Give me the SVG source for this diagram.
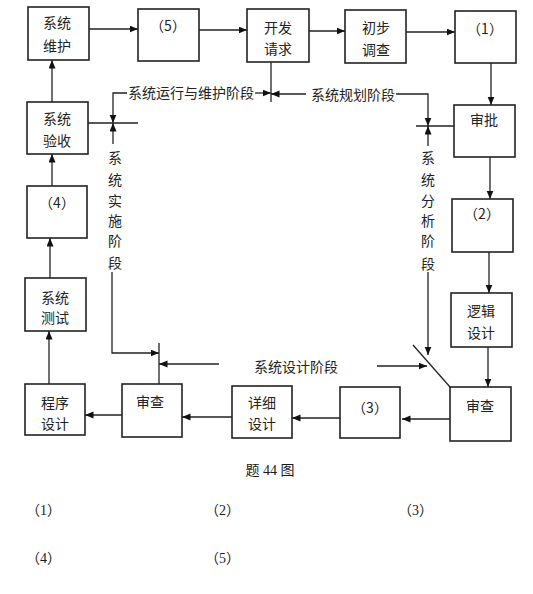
<svg xmlns="http://www.w3.org/2000/svg" width="533" height="594" viewBox="0 0 533 594">
<style>
.box{fill:#fff;stroke:#222;stroke-width:1.6}
.ln{fill:none;stroke:#222;stroke-width:1.3}
.t{font-family:"Noto Sans CJK SC","Liberation Sans",sans-serif;font-size:14px;fill:#222;text-anchor:middle;dominant-baseline:central}
.cap{font-family:"Liberation Serif","Noto Sans CJK SC",serif;font-size:14px;fill:#1a1a1a;dominant-baseline:central}
</style>
<defs>
<marker id="ah" markerUnits="userSpaceOnUse" markerWidth="9" markerHeight="8" refX="8.5" refY="3.5" orient="auto">
<path d="M0,0 L8.5,3.5 L0,7 z" fill="#111"/>
</marker>
</defs>
<rect width="533" height="594" fill="#fff"/>

<g id="connectors">
<line class="ln" x1="89" y1="29" x2="138" y2="29" marker-end="url(#ah)"/>
<line class="ln" x1="199" y1="30" x2="247" y2="30" marker-end="url(#ah)"/>
<line class="ln" x1="309" y1="31" x2="345" y2="31" marker-end="url(#ah)"/>
<line class="ln" x1="406" y1="32" x2="455" y2="32" marker-end="url(#ah)"/>
<line class="ln" x1="491" y1="63" x2="491" y2="105" marker-end="url(#ah)"/>
<line class="ln" x1="490" y1="157" x2="490" y2="199" marker-end="url(#ah)"/>
<line class="ln" x1="489" y1="252" x2="489" y2="293" marker-end="url(#ah)"/>
<line class="ln" x1="488" y1="347" x2="488" y2="387" marker-end="url(#ah)"/>
<line class="ln" x1="450" y1="419" x2="402" y2="419" marker-end="url(#ah)"/>
<line class="ln" x1="340" y1="418" x2="292" y2="418" marker-end="url(#ah)"/>
<line class="ln" x1="232" y1="417" x2="182" y2="417" marker-end="url(#ah)"/>
<line class="ln" x1="122" y1="415" x2="85" y2="415" marker-end="url(#ah)"/>
<line class="ln" x1="49" y1="384" x2="49" y2="331" marker-end="url(#ah)"/>
<line class="ln" x1="50" y1="278" x2="50" y2="238" marker-end="url(#ah)"/>
<line class="ln" x1="52" y1="186" x2="52" y2="154" marker-end="url(#ah)"/>
<line class="ln" x1="52" y1="102" x2="52" y2="60" marker-end="url(#ah)"/>

<!-- stage boundary lines -->
<line class="ln" x1="271" y1="62" x2="271" y2="102"/>
<polyline class="ln" points="127,93 113,93 113,123" marker-end="url(#ah)"/>
<line class="ln" x1="255" y1="93" x2="271" y2="93" marker-end="url(#ah)"/>
<line class="ln" x1="306" y1="94" x2="271" y2="94" marker-end="url(#ah)"/>
<polyline class="ln" points="396,94 428,94 428,126" marker-end="url(#ah)"/>
<line class="ln" x1="88" y1="123" x2="138" y2="123"/>
<line class="ln" x1="416" y1="126" x2="454" y2="126"/>
<line class="ln" x1="113" y1="144" x2="113" y2="123" marker-end="url(#ah)"/>
<line class="ln" x1="428" y1="146" x2="428" y2="126" marker-end="url(#ah)"/>
<polyline class="ln" points="112,272 112,353 159,353" marker-end="url(#ah)"/>
<line class="ln" x1="159" y1="343" x2="159" y2="384"/>
<line class="ln" x1="219" y1="364" x2="159" y2="364" marker-end="url(#ah)"/>
<line class="ln" x1="428" y1="272" x2="428" y2="355" marker-end="url(#ah)"/>
<line class="ln" x1="377" y1="366" x2="427" y2="366" marker-end="url(#ah)"/>
<line class="ln" x1="413" y1="345" x2="450" y2="387"/>
</g>

<g id="n-xtwh"><rect class="box" x="28" y="7" width="61" height="53"/><text class="t" x="57" y="22">系统</text><text class="t" x="57" y="45">维护</text></g>
<g id="n-5"><rect class="box" x="138" y="9" width="61" height="52"/><text class="t" x="168" y="25">（5）</text></g>
<g id="n-kfqq"><rect class="box" x="247" y="9" width="62" height="53"/><text class="t" x="278" y="27">开发</text><text class="t" x="278" y="48">请求</text></g>
<g id="n-cbdc"><rect class="box" x="345" y="10" width="61" height="53"/><text class="t" x="376" y="27">初步</text><text class="t" x="376" y="49">调查</text></g>
<g id="n-1"><rect class="box" x="455" y="11" width="61" height="52"/><text class="t" x="485" y="28">（1）</text></g>
<g id="n-sp"><rect class="box" x="454" y="105" width="61" height="52"/><text class="t" x="484" y="119">审批</text></g>
<g id="n-2"><rect class="box" x="452" y="199" width="61" height="53"/><text class="t" x="482" y="213">（2）</text></g>
<g id="n-ljsj"><rect class="box" x="451" y="293" width="61" height="54"/><text class="t" x="481" y="310">逻辑</text><text class="t" x="481" y="332">设计</text></g>
<g id="n-scR"><rect class="box" x="450" y="387" width="61" height="54"/><text class="t" x="480" y="405">审查</text></g>
<g id="n-3"><rect class="box" x="340" y="387" width="60" height="51"/><text class="t" x="370" y="407">（3）</text></g>
<g id="n-xxsj"><rect class="box" x="232" y="386" width="60" height="52"/><text class="t" x="262" y="402">详细</text><text class="t" x="262" y="423">设计</text></g>
<g id="n-scL"><rect class="box" x="122" y="384" width="60" height="53"/><text class="t" x="150" y="401">审查</text></g>
<g id="n-cxsj"><rect class="box" x="25" y="384" width="60" height="51"/><text class="t" x="55" y="402">程序</text><text class="t" x="55" y="423">设计</text></g>
<g id="n-xtcs"><rect class="box" x="25" y="278" width="61" height="53"/><text class="t" x="55" y="297">系统</text><text class="t" x="55" y="317">测试</text></g>
<g id="n-4"><rect class="box" x="27" y="186" width="60" height="52"/><text class="t" x="57" y="202">（4）</text></g>
<g id="n-xtys"><rect class="box" x="27" y="102" width="61" height="52"/><text class="t" x="57" y="118">系统</text><text class="t" x="57" y="140">验收</text></g>

<g id="stage-labels">
<text class="t" x="191" y="92">系统运行与维护阶段</text>
<text class="t" x="353" y="94">系统规划阶段</text>
<text class="t" x="296" y="366">系统设计阶段</text>
<text class="t" x="115" y="157">系</text><text class="t" x="115" y="179">统</text><text class="t" x="115" y="200">实</text><text class="t" x="115" y="220">施</text><text class="t" x="115" y="240">阶</text><text class="t" x="115" y="262">段</text>
<text class="t" x="428" y="157">系</text><text class="t" x="428" y="179">统</text><text class="t" x="428" y="200">分</text><text class="t" x="428" y="220">析</text><text class="t" x="428" y="240">阶</text><text class="t" x="428" y="263">段</text>
</g>

<g id="caption">
<text class="cap" x="270" y="470" style="text-anchor:middle">题 44 图</text>
<text class="cap" x="26" y="510">（1）</text>
<text class="cap" x="205" y="510">（2）</text>
<text class="cap" x="398" y="510">（3）</text>
<text class="cap" x="26" y="558">（4）</text>
<text class="cap" x="205" y="558">（5）</text>
</g>
</svg>
